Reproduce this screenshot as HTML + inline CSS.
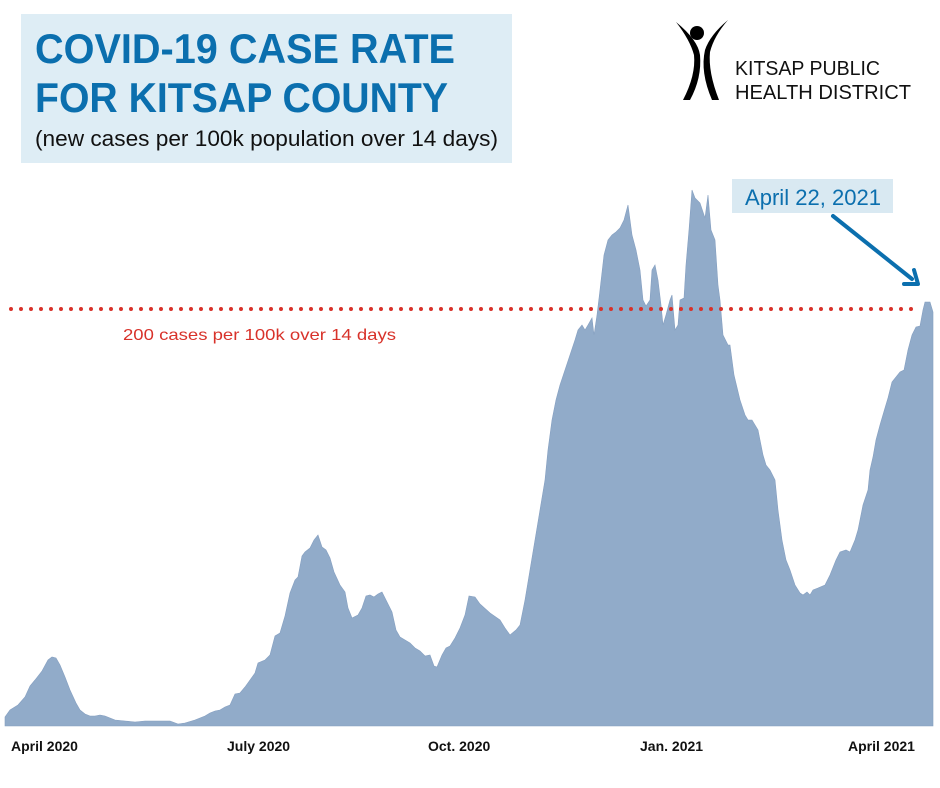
<!DOCTYPE html>
<html><head><meta charset="utf-8"><style>html,body{margin:0;padding:0;background:#fff}svg{display:block}</style></head>
<body>
<svg width="940" height="788" viewBox="0 0 940 788" xmlns="http://www.w3.org/2000/svg" font-family="Liberation Sans, sans-serif">
<rect x="21" y="14" width="491" height="149" fill="#deedf5"/>
<text x="35" y="63" font-size="42" font-weight="bold" fill="#0b6fae" textLength="420" lengthAdjust="spacingAndGlyphs">COVID-19 CASE RATE</text>
<text x="35" y="112" font-size="42" font-weight="bold" fill="#0b6fae" textLength="413" lengthAdjust="spacingAndGlyphs">FOR KITSAP COUNTY</text>
<text x="35" y="146" font-size="22" fill="#111" textLength="463" lengthAdjust="spacingAndGlyphs">(new cases per 100k population over 14 days)</text>

<!-- logo -->
<circle cx="697" cy="33" r="7" fill="#000"/>
<path d="M676 22 Q690 40 694 55 Q696 75 683 100 L690 100 Q702 78 700 55 Q698 40 676 22Z" fill="#000"/>
<path d="M728 20 Q710 35 705 50 Q700 72 712 100 L719 100 Q708 72 710 52 Q714 36 728 20Z" fill="#000"/>
<text x="735" y="75" font-size="20" fill="#111" textLength="145" lengthAdjust="spacingAndGlyphs">KITSAP PUBLIC</text>
<text x="735" y="99" font-size="20" fill="#111" textLength="176" lengthAdjust="spacingAndGlyphs">HEALTH DISTRICT</text>

<!-- area -->
<polygon fill="#91abc9" stroke="#859fc0" stroke-width="0.6" points="5,726 5,717 10,710 18,705 25,697 30,686 35,680 42,671 48,660 52,657 56,658 60,665 65,677 70,690 76,703 80,710 85,714 90,716 95,716 100,715 105,716 110,718 115,720 125,721 135,722 145,721 160,721 170,721 178,724 185,723 195,720 205,716 210,713 215,711 220,710 225,707 230,705 235,694 240,693 245,687 250,680 255,673 258,663 265,660 270,655 275,636 280,633 285,616 290,593 295,580 298,577 302,556 305,552 310,548 314,540 318,535 322,547 326,550 330,558 334,572 340,585 345,592 348,608 352,618 358,615 362,608 366,596 370,595 374,597 378,594 382,592 386,600 392,612 396,630 400,637 405,640 410,643 415,648 420,651 425,656 430,655 434,666 437,667 442,655 446,648 450,646 455,638 460,628 465,615 469,596 475,597 480,604 490,613 500,620 505,628 510,635 516,630 520,625 525,600 530,570 535,540 540,510 545,480 548,450 552,420 556,400 560,385 565,370 570,355 575,340 578,330 582,325 585,330 588,325 592,318 594,335 597,315 600,290 604,255 608,240 612,235 616,232 620,228 624,220 628,205 632,235 636,250 640,270 643,300 646,306 650,300 652,270 655,265 658,280 661,305 663,325 666,315 670,300 672,295 675,330 678,325 680,300 684,298 686,265 689,230 692,190 695,198 700,203 705,218 708,195 711,230 715,240 718,285 720,300 723,335 728,345 730,345 734,375 740,400 745,415 748,420 752,420 758,430 760,440 763,455 766,465 770,470 775,480 778,510 782,540 786,560 790,570 795,585 800,593 803,595 807,592 810,595 813,590 818,588 825,585 830,575 836,560 840,552 846,550 850,552 855,540 858,530 863,505 868,490 870,470 873,457 876,440 880,425 885,408 888,398 892,382 900,372 904,370 908,350 912,335 916,327 920,326 923,310 925,302 930,302 933,312 933,726"/>

<line x1="11" y1="309" x2="915" y2="309" stroke="#d8322a" stroke-width="4" stroke-linecap="round" stroke-dasharray="0 10"/>
<text x="123" y="340" font-size="16" fill="#d8322a" textLength="273" lengthAdjust="spacingAndGlyphs">200 cases per 100k over 14 days</text>

<rect x="732" y="179" width="161" height="34" fill="#d9e9f2"/>
<text x="745" y="205" font-size="22" fill="#0b6fae" textLength="136" lengthAdjust="spacingAndGlyphs">April 22, 2021</text>
<line x1="833" y1="216" x2="912" y2="279" stroke="#0b6fae" stroke-width="4" stroke-linecap="round"/>
<polyline points="904,284 918,284 914,270" fill="none" stroke="#0b6fae" stroke-width="4" stroke-linecap="round" stroke-linejoin="round"/>

<g font-size="14" font-weight="bold" fill="#111">
<text x="11" y="751">April 2020</text>
<text x="227" y="751">July 2020</text>
<text x="428" y="751">Oct. 2020</text>
<text x="640" y="751">Jan. 2021</text>
<text x="848" y="751">April 2021</text>
</g>
</svg>
</body></html>
